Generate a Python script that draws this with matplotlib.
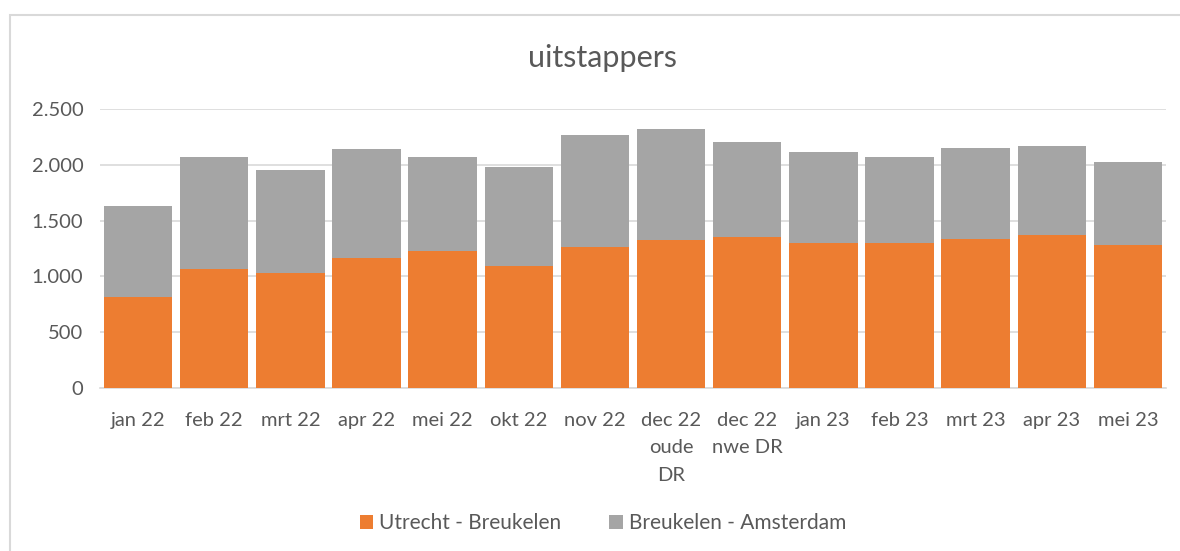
import matplotlib.pyplot as plt
from matplotlib.ticker import FuncFormatter
from matplotlib.patches import Rectangle

# data
months = ['jan 22', 'feb 22', 'mrt 22', 'apr 22', 'mei 22', 'okt 22', 'nov 22',
          'dec 22\noude\nDR', 'dec 22\nnwe DR', 'jan 23', 'feb 23', 'mrt 23',
          'apr 23', 'mei 23']
utrecht_breukelen = [818, 1065, 1027, 1167, 1229, 1089, 1265,
                     1330, 1354, 1298, 1298, 1339, 1372, 1277]
totals = [1631, 2074, 1955, 2140, 2074, 1976, 2271,
          2324, 2205, 2119, 2074, 2152, 2164, 2021]
breukelen_amsterdam = [t - u for t, u in zip(totals, utrecht_breukelen)]

orange = '#ED7D31'
grey = '#A5A5A5'
text_col = '#595959'
line_col = '#D9D9D9'

plt.rcParams['font.family'] = ['Lato', 'DejaVu Sans']

fig = plt.figure(figsize=(11.8, 5.51), dpi=100)
ax = fig.add_axes([100 / 1180, 1 - 388 / 551, 1066 / 1180, 279 / 551])

x = range(len(months))
ax.bar(x, utrecht_breukelen, width=0.9, color=orange, label='Utrecht - Breukelen', zorder=3)
ax.bar(x, breukelen_amsterdam, width=0.9, bottom=utrecht_breukelen, color=grey,
       label='Breukelen - Amsterdam', zorder=3)

ax.set_xlim(-0.5, len(months) - 0.5)
ax.set_ylim(0, 2500)
ax.set_yticks(range(0, 2501, 500))
ax.yaxis.set_major_formatter(FuncFormatter(lambda v, p: f'{int(v):,}'.replace(',', '.')))
ax.set_xticks(list(x))
ax.set_xticklabels(months, linespacing=1.75)

ax.grid(axis='y', color=line_col, linewidth=1.2, zorder=0)
for s in ['top', 'right', 'left']:
    ax.spines[s].set_visible(False)
ax.spines['bottom'].set_color(line_col)
ax.spines['bottom'].set_linewidth(1.2)
ax.tick_params(length=0, colors=text_col, labelsize=14.5)
ax.tick_params(axis='x', pad=17)
ax.tick_params(axis='y', pad=12)

fig.suptitle('uitstappers', x=603 / 1180, y=1 - 44 / 551, fontsize=22, color=text_col, va='top')

fig.legend(loc='center', bbox_to_anchor=(603 / 1180, 1 - 523 / 551), ncol=2, frameon=False,
           fontsize=15, labelcolor=text_col, handlelength=0.65, handleheight=0.65,
           handletextpad=0.3, columnspacing=2.3)

# chart border (left and top edges visible)
fig.patches.append(Rectangle((10 / 1180, -0.05), 1.2, 1 - 15 / 551 + 0.05,
                             transform=fig.transFigure, fill=False,
                             edgecolor=line_col, linewidth=1.5))

fig.savefig('out.png', dpi=100)
